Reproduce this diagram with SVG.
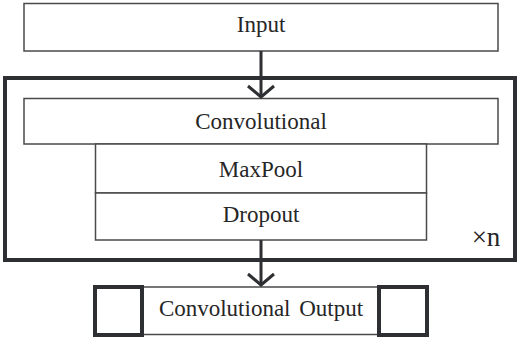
<svg xmlns="http://www.w3.org/2000/svg" width="518" height="337" viewBox="0 0 518 337">
  <style>
    .box { fill: #ffffff; stroke: #4a4a4a; stroke-width: 1.5; }
    .thick { fill: none; stroke: #2e2f33; stroke-width: 4; }
    .wire { fill: none; stroke: #2e2f33; stroke-width: 3; }
    .label { font-family: "Liberation Serif", "Times New Roman", serif; font-size: 23px; fill: #262626; text-anchor: middle; }
  </style>
  <defs>
    <!-- open chevron head, drawn along +x so orient="auto" points it down the wire -->
    <marker id="chevron" markerUnits="userSpaceOnUse" markerWidth="16" markerHeight="30" refX="14" refY="15" orient="auto" viewBox="0 0 16 30">
      <path d="M3 2 L14 15 L3 28" fill="none" stroke="#2e2f33" stroke-width="3"/>
    </marker>
  </defs>

  <rect width="518" height="337" fill="#ffffff"/>

  <!-- repeated block frame -->
  <g id="repeat-frame">
    <rect class="thick" x="5" y="78" width="510" height="182"/>
    <text class="label" x="486" y="246" style="font-size:27px">×n</text>
  </g>

  <g id="input">
    <rect class="box" x="24" y="3.5" width="474" height="47.5"/>
    <text class="label" x="261" y="32">Input</text>
  </g>

  <g id="convolutional">
    <rect class="box" x="24" y="98.5" width="474" height="45.5"/>
    <text class="label" x="261" y="129">Convolutional</text>
  </g>

  <g id="maxpool">
    <rect class="box" x="95.5" y="144" width="331" height="49"/>
    <text class="label" x="261" y="177">MaxPool</text>
  </g>

  <g id="dropout">
    <rect class="box" x="95.5" y="193" width="331" height="47"/>
    <text class="label" x="261" y="222">Dropout</text>
  </g>

  <g id="convolutional-output">
    <rect class="box" x="142" y="287" width="237" height="47.5"/>
    <rect class="thick" x="95" y="287" width="47" height="48"/>
    <rect class="thick" x="379" y="287" width="48" height="48"/>
    <text class="label" x="261" y="316" style="word-spacing:3px">Convolutional Output</text>
  </g>

  <g id="connectors">
    <line class="wire" x1="261" y1="51" x2="261" y2="97" marker-end="url(#chevron)"/>
    <line class="wire" x1="261" y1="240" x2="261" y2="285" marker-end="url(#chevron)"/>
  </g>
</svg>
